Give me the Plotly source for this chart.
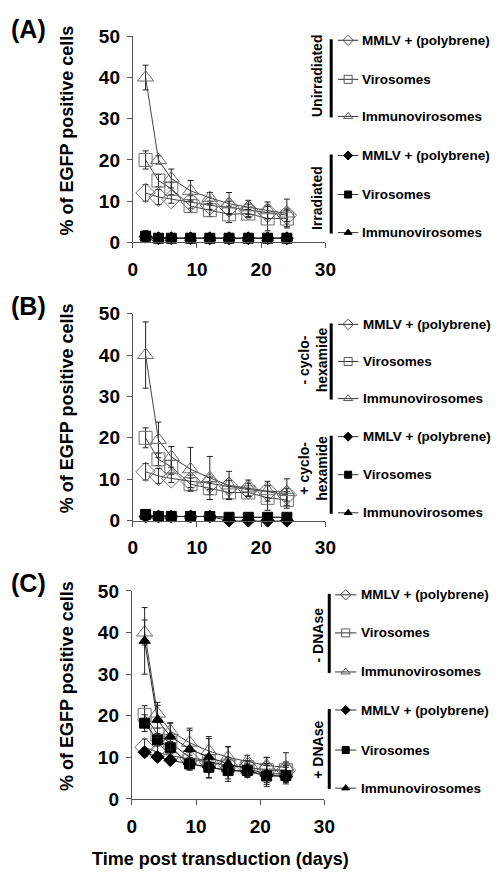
import plotly.graph_objects as go

# ---------------- data ----------------
days = [2, 4, 6, 9, 12, 15, 18, 21, 24]
series_names = ["MMLV + (polybrene)", "Virosomes", "Immunovirosomes"]
x_ticks = [0, 10, 20, 30]
y_ticks = [0, 10, 20, 30, 40, 50]

# Panel A
a_mmlv = [12, 11, 10.5, 9.8, 9, 8.5, 7.8, 7.2, 6.6]
a_mmlv_err = [2, 1.8, 1, 1.5, 1, 1.5, 1.5, 1.5, 1.5]
a_viro = [20, 15, 13, 8.8, 7.8, 6.8, 7, 5.8, 5.8]
a_viro_err = [2.2, 1.5, 1.5, 1.5, 1.5, 2, 1, 3, 2]
a_immuno = [40, 20, 15.5, 12.5, 10.8, 9.4, 8.5, 7.8, 7]
a_immuno_err = [3, 1, 2.3, 2.5, 1.3, 2.7, 1.7, 2, 3.5]
a_irr_mmlv = [1.4, 1, 1, 1, 1, 1, 1, 1, 1]
a_irr_mmlv_err = [1.2, 0.2, 0.2, 0.2, 0.2, 0.2, 0.2, 0.2, 0.2]
a_irr_viro = [1.5, 1, 1, 1, 1, 1, 1, 1, 1]
a_irr_viro_err = [1.3, 0.2, 0.2, 0.2, 0.2, 0.2, 0.2, 0.2, 0.2]
a_irr_immuno = [1.2, 1, 1, 1, 1, 1, 1, 1, 1]
a_irr_immuno_err = [1, 0.2, 0.2, 0.2, 0.2, 0.2, 0.2, 0.2, 0.2]

# Panel B
b_mmlv = [11.8, 10.8, 10.2, 9.5, 9, 8.2, 7.5, 7, 6.2]
b_mmlv_err = [2, 1.8, 1, 1.5, 1.5, 1.5, 1.5, 1.5, 1.5]
b_viro = [20, 14.8, 13, 8.8, 7.8, 6.8, 6.8, 5.5, 5]
b_viro_err = [2.4, 1.5, 1.5, 1.5, 1.5, 1.5, 1, 3, 2]
b_immuno = [40, 19.5, 15.4, 12.4, 10.3, 8.5, 7.8, 7.1, 6.9]
b_immuno_err = [8, 4.3, 2.5, 5.3, 5.2, 3.4, 2, 2.4, 3.2]
b_cyc_mmlv = [1, 1, 1, 1, 1, 0, 0, 0, 0]
b_cyc_mmlv_err = [0.3, 0.2, 0.2, 0.2, 0.2, 0.1, 0.1, 0.1, 0.1]
b_cyc_viro = [1.5, 1, 1, 1, 1, 0.8, 0.8, 0.8, 0.8]
b_cyc_viro_err = [0.5, 0.2, 0.2, 0.2, 0.2, 0.2, 0.2, 0.2, 0.2]
b_cyc_immuno = [1.2, 1, 1, 1, 1, 0.8, 0.8, 0.8, 0.8]
b_cyc_immuno_err = [0.3, 0.2, 0.2, 0.2, 0.2, 0.2, 0.2, 0.2, 0.2]

# Panel C
c_mmlv = [12.4, 11.2, 10.4, 9.6, 8.8, 8, 7.6, 6.9, 6.9]
c_mmlv_err = [2, 1.8, 1, 1.5, 1.5, 1.5, 1.5, 1.5, 1.5]
c_viro = [20.2, 15.5, 13.5, 10, 9, 8, 7.6, 6.9, 6.9]
c_viro_err = [2.2, 1.5, 1.5, 1.5, 1.5, 2, 1, 3, 2]
c_immuno = [40, 20.5, 16.3, 13.5, 11.5, 10, 9, 8, 7.6]
c_immuno_err = [3, 2, 2, 3, 3, 2.5, 1.5, 2, 3.5]
c_dn_mmlv = [11.2, 10.1, 9.3, 8.4, 7.6, 6.9, 6.5, 5.7, 5.3]
c_dn_mmlv_err = [1, 1, 0.7, 1, 1, 1, 1, 1, 1]
c_dn_viro = [18.2, 14.2, 12.3, 8.4, 7.6, 6.8, 6.8, 5.5, 5.6]
c_dn_viro_err = [2, 1.5, 1.5, 1.5, 2.5, 2, 1.5, 2.5, 2]
c_dn_immuno = [38, 19, 15, 12, 10, 8.4, 7.2, 6, 6]
c_dn_immuno_err = [8, 4.2, 3.2, 5, 5, 4.2, 2, 2.5, 2]

panel_labels = ["(A)", "(B)", "(C)"]
group_labels = [("Unirradiated", "Irradiated"),
                ("- cyclo-<br>hexamide", "+ cyclo-<br>hexamide"),
                ("- DNAse", "+ DNAse")]
y_title = "% of EGFP positive cells"
x_title = "Time post transduction (days)"

# ---------------- layout helpers ----------------
W, H = 499, 887
FONT = "Liberation Sans, Arial, sans-serif"
def px(x):
    return x / W
def py(y):
    return 1 - y / H

# plot areas (pixel rectangles): x0, x1, ytop, ybottom
panels = [
    (132, 331, 27, 238),
    (132, 331, 311, 523),
    (131, 330, 595, 808),
]

open_line = "#6e6e6e"
open_sym = ["diamond-open", "square-open", "triangle-up-open"]
fill_sym = ["diamond", "square", "triangle-up"]
open_size = [15, 13, 14]
fill_size = [10, 10, 10]

panel_data = [
    ([a_mmlv, a_viro, a_immuno], [a_mmlv_err, a_viro_err, a_immuno_err],
     [a_irr_mmlv, a_irr_viro, a_irr_immuno], [a_irr_mmlv_err, a_irr_viro_err, a_irr_immuno_err]),
    ([b_mmlv, b_viro, b_immuno], [b_mmlv_err, b_viro_err, b_immuno_err],
     [b_cyc_mmlv, b_cyc_viro, b_cyc_immuno], [b_cyc_mmlv_err, b_cyc_viro_err, b_cyc_immuno_err]),
    ([c_mmlv, c_viro, c_immuno], [c_mmlv_err, c_viro_err, c_immuno_err],
     [c_dn_mmlv, c_dn_viro, c_dn_immuno], [c_dn_mmlv_err, c_dn_viro_err, c_dn_immuno_err]),
]

fig = go.Figure()
layout = dict(
    width=W, height=H, margin=dict(l=0, r=0, t=0, b=0),
    paper_bgcolor="white", plot_bgcolor="rgba(0,0,0,0)",
    showlegend=False, font=dict(family=FONT, color="black"),
)

annotations = []
shapes = []

for i, (x0, x1, yt, yb) in enumerate(panels):
    n = "" if i == 0 else str(i + 1)
    xa, ya = "x" + n, "y" + n
    layout["xaxis" + n] = dict(
        domain=[px(x0), px(x1)], range=[0, 30], anchor=ya,
        tickvals=x_ticks, ticks="outside", ticklen=5, tickcolor="#555",
        showline=True, linecolor="#555", linewidth=1, showgrid=False, zeroline=False,
        tickfont=dict(family=FONT, size=19, weight="bold", color="black"),
        ticklabelstandoff=5,
    )
    layout["yaxis" + n] = dict(
        domain=[py(yb), py(yt)], range=[0, 50], anchor=xa,
        tickvals=y_ticks, ticks="outside", ticklen=5, tickcolor="#555",
        showline=True, linecolor="#555", linewidth=1, showgrid=False, zeroline=False,
        tickfont=dict(family=FONT, size=19, weight="bold", color="black"),
        ticklabelstandoff=3,
    )
    opens, open_errs, fills, fill_errs = panel_data[i]
    for k in range(3):
        fig.add_trace(go.Scatter(
            x=days, y=opens[k], xaxis=xa, yaxis=ya, mode="lines+markers",
            line=dict(color="#444", width=1),
            marker=dict(symbol=open_sym[k], size=open_size[k], color=open_line,
                        line=dict(color=open_line, width=1)),
            error_y=dict(type="data", array=open_errs[k], color="#222", thickness=1, width=3),
            cliponaxis=False, name=series_names[k],
        ))
    order = [0, 2, 1] if i < 2 else [0, 1, 2]
    for k in order:
        fig.add_trace(go.Scatter(
            x=days, y=fills[k], xaxis=xa, yaxis=ya, mode="lines+markers",
            line=dict(color="#222", width=1),
            marker=dict(symbol=fill_sym[k], size=fill_size[k], color="black",
                        line=dict(color="black", width=1)),
            error_y=dict(type="data", array=fill_errs[k], color="#222", thickness=1, width=3),
            cliponaxis=False, name=series_names[k],
        ))

    # panel label
    annotations.append(dict(x=px(4), y=py(yt - 8), xref="paper", yref="paper",
                            text="<b>%s</b>" % panel_labels[i], showarrow=False,
                            xanchor="left", yanchor="middle",
                            font=dict(family=FONT, size=25, color="black")))
    # y-axis title
    annotations.append(dict(x=px(64), y=py((yt + yb) / 2 - 9), xref="paper", yref="paper",
                            text="<b>%s</b>" % y_title, showarrow=False, textangle=-90,
                            xanchor="center", yanchor="middle",
                            font=dict(family=FONT, size=18, color="black")))

# ---------------- custom legends (overlay axis in pixel units) ----------------
layout["xaxis4"] = dict(domain=[0, 1], range=[0, W], visible=False, anchor="y4", fixedrange=True)
layout["yaxis4"] = dict(domain=[0, 1], range=[H, 0], visible=False, anchor="x4", fixedrange=True)

legend_items_y = [
    [31, 71, 109, 149, 189, 228],
    [322, 360, 398, 437, 476, 515],
    [599, 638, 678, 717, 758, 797],
]
legend_line_x = [(344, 365), (344, 365), (341, 363)]
legend_text_x = [367, 368, 366]
bar_x = [337, 337, 335]
group_label_x = [323, 318, 323]
group_label_y = [(68, 193), (358, 469), (640, 758)]

for i in range(3):
    ys = legend_items_y[i]
    lx0, lx1 = legend_line_x[i]
    mx = (lx0 + lx1) / 2
    for j in range(6):
        k = j % 3
        filled = j >= 3
        fig.add_trace(go.Scatter(
            x=[lx0, lx1], y=[ys[j], ys[j]], xaxis="x4", yaxis="y4", mode="lines",
            line=dict(color="#333", width=1), hoverinfo="skip", cliponaxis=False))
        fig.add_trace(go.Scatter(
            x=[mx], y=[ys[j]], xaxis="x4", yaxis="y4", mode="markers",
            marker=dict(symbol=(fill_sym[k] if filled else open_sym[k]),
                        size=8 if not filled else 7,
                        color=("black" if filled else "#555"),
                        line=dict(color=("black" if filled else "#555"), width=1)),
            hoverinfo="skip", cliponaxis=False))
        annotations.append(dict(x=px(legend_text_x[i]), y=py(ys[j]), xref="paper", yref="paper",
                                text="<b>%s</b>" % series_names[k], showarrow=False,
                                xanchor="left", yanchor="middle",
                                font=dict(family=FONT, size=13.5, color="black")))
    for g in range(2):
        y_top = ys[3 * g] - 1
        y_bot = ys[3 * g + 2] + 1
        shapes.append(dict(type="line", xref="paper", yref="paper",
                           x0=px(bar_x[i]), x1=px(bar_x[i]), y0=py(y_top), y1=py(y_bot),
                           line=dict(color="black", width=3)))
        annotations.append(dict(x=px(group_label_x[i]), y=py(group_label_y[i][g]),
                                xref="paper", yref="paper",
                                text="<b>%s</b>" % group_labels[i][g], showarrow=False,
                                textangle=-90, xanchor="center", yanchor="middle",
                                font=dict(family=FONT, size=14, color="black")))

# x-axis title
annotations.append(dict(x=px(223), y=py(870), xref="paper", yref="paper",
                        text="<b>%s</b>" % x_title, showarrow=False,
                        xanchor="center", yanchor="middle",
                        font=dict(family=FONT, size=18, color="black")))

layout["annotations"] = annotations
layout["shapes"] = shapes
fig.update_layout(**layout)
fig.write_html(
    "out.html",
    config={"displayModeBar": False},
    post_script="document.body.style.margin='0';document.documentElement.style.overflow='hidden';",
)
